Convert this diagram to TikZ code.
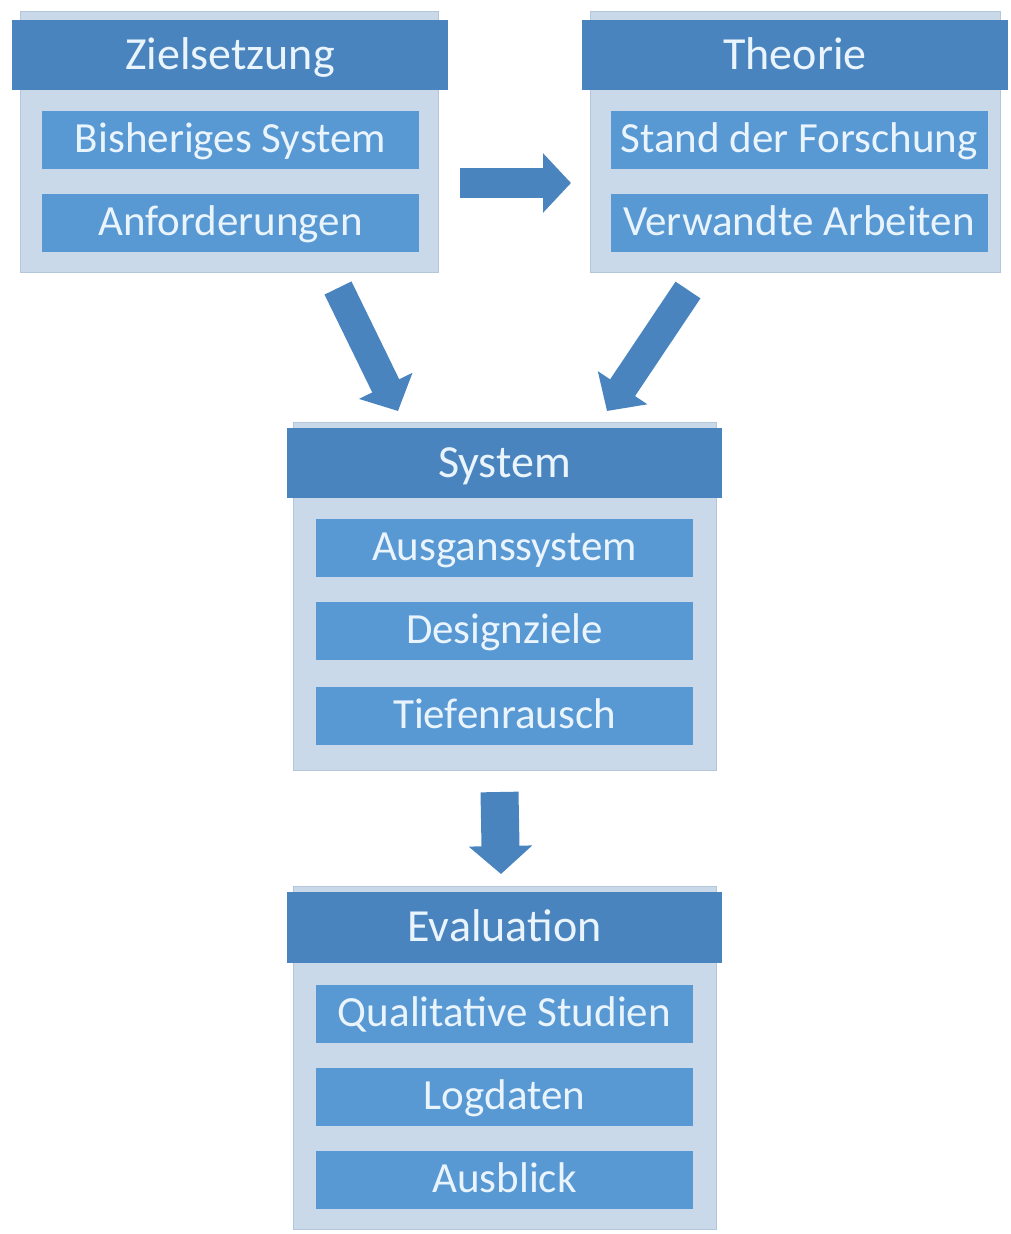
\documentclass[tikz,border=0pt]{standalone}
\usepackage{fontspec}
\setmainfont{Carlito}
\usetikzlibrary{arrows.meta}

\definecolor{headBlue}{HTML}{4A84BF}
\definecolor{itemBlue}{HTML}{5898D3}
\definecolor{panelBlue}{HTML}{C9D9EA}
\definecolor{panelLine}{HTML}{B3C6DA}
\definecolor{labelWhite}{HTML}{EAF4FC}

\begin{document}
\begin{tikzpicture}[x=1pt,y=-1pt,%%
  panelStyle/.style={draw=panelLine,fill=panelBlue,line width=1pt,inner sep=0pt},
  headStyle/.style={fill=headBlue,text=labelWhite,inner sep=0pt,
    text height=34pt,text depth=6pt,
    minimum width=436pt,minimum height=70pt,font=\fontsize{46}{50}\selectfont},
  itemStyle/.style={fill=itemBlue,text=labelWhite,inner sep=0pt,
    text height=31pt,text depth=6pt,
    minimum width=377pt,minimum height=58pt,font=\fontsize{43}{48}\selectfont},
  flowStyle/.style={draw=headBlue,line width=30pt,
    -{Triangle[length=28pt,width=58pt]}}
]
%%
\useasboundingbox (0,0) rectangle (1010,1234);
%%
%% Zielsetzung (top left).
\node[panelStyle,minimum width=418pt,minimum height=261pt] (zielPanel) at (229,142) {};
\node[headStyle] (ziel) at (230,55) {Zielsetzung};
\node[itemStyle] (zielA) at (230.5,139.5) {Bisheriges System};
\node[itemStyle] (zielB) at (230.5,222.5) {Anforderungen};
%%
%% Theorie (top right).
\node[panelStyle,minimum width=410pt,minimum height=261pt] (theoPanel) at (795,142) {};
\node[headStyle,minimum width=426pt] (theo) at (795,55) {Theorie};
\node[itemStyle] (theoA) at (799,139.5) {Stand der Forschung};
\node[itemStyle] (theoB) at (799,222.5) {Verwandte Arbeiten};
%%
%% System (middle).
\node[panelStyle,minimum width=423pt,minimum height=348pt] (sysPanel) at (504.5,596) {};
\node[headStyle,minimum width=435pt] (sys) at (504.5,463) {System};
\node[itemStyle] (sysA) at (504.5,547.5) {Ausganssystem};
\node[itemStyle] (sysB) at (504.5,631) {Designziele};
\node[itemStyle] (sysC) at (504.5,715.5) {Tiefenrausch};
%%
%% Evaluation (bottom).
\node[panelStyle,minimum width=423pt,minimum height=343pt] (evalPanel) at (504.5,1058) {};
\node[headStyle,minimum width=435pt,minimum height=71pt] (eval) at (504.5,927.5) {Evaluation};
\node[itemStyle] (evalA) at (504.5,1014) {Qualitative Studien};
\node[itemStyle] (evalB) at (504.5,1097) {Logdaten};
\node[itemStyle] (evalC) at (504.5,1179.5) {Ausblick};
%%
%% Ends of the block arrows.
\coordinate (zielOut) at (460,183);
\coordinate (theoIn) at (571,183);
\coordinate (zielDown) at (338,288);
\coordinate (sysInL) at (398,411);
\coordinate (theoDown) at (688,290);
\coordinate (sysInR) at (607,411);
\coordinate (sysOut) at (499.5,792);
\coordinate (evalIn) at (501,874);
%%
%% The block arrows.
\draw[flowStyle] (zielOut) -- (theoIn);
\draw[flowStyle] (zielDown) -- (sysInL);
\draw[flowStyle] (theoDown) -- (sysInR);
\draw[flowStyle,line width=38pt,-{Triangle[length=28pt,width=62pt]}] (sysOut) -- (evalIn);
\end{tikzpicture}
\end{document}
